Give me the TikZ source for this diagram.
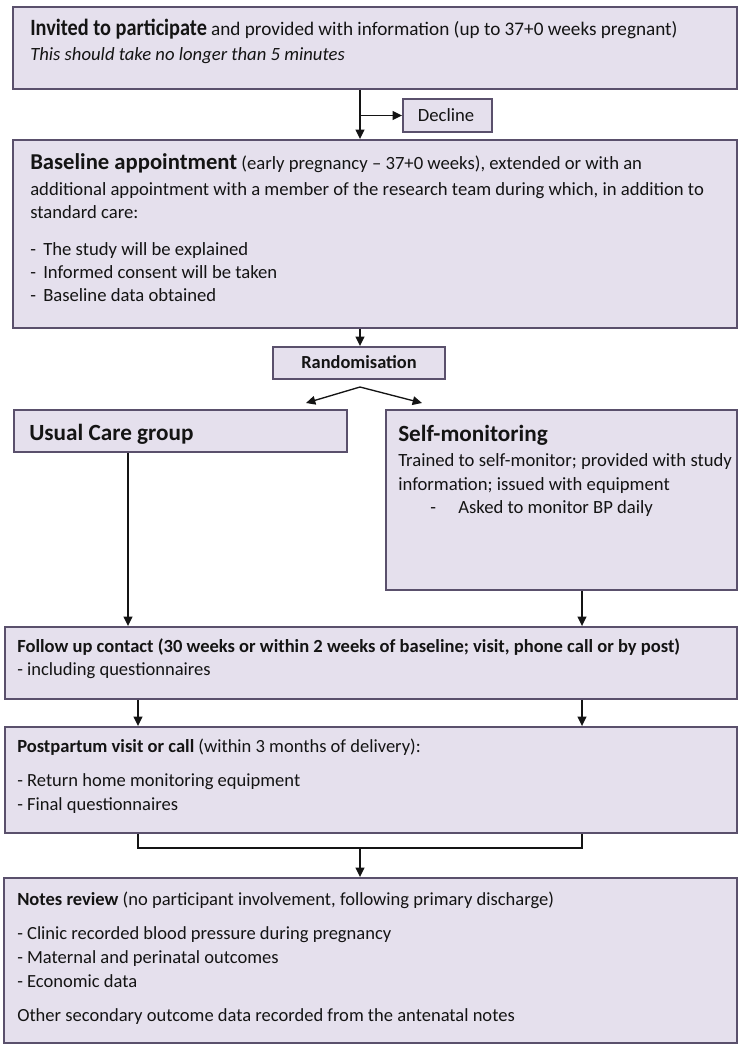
\documentclass[tikz,border=0pt]{standalone}
\usepackage{fontspec}
\setmainfont{Carlito}
\usetikzlibrary{arrows.meta,fit}
\definecolor{boxfill}{RGB}{229,224,237}
\definecolor{boxline}{RGB}{90,80,108}
\definecolor{ink}{RGB}{20,20,20}
\begin{document}
\begin{tikzpicture}[x=0.75pt,y=-0.75pt,
  box/.style={draw=boxline,fill=boxfill,line width=1.4pt,inner sep=0pt},
  txt/.style={anchor=base west,inner sep=0pt,text=ink,font=\fontsize{14}{16}\selectfont},
  small/.style={anchor=base west,inner sep=0pt,text=ink,font=\fontsize{13.9}{16}\selectfont},
  big/.style={font=\bfseries\fontsize{17.4}{20}\selectfont},
  arr/.style={-{Triangle[length=7pt,width=6.5pt]},line width=1pt,draw=ink},
  ln/.style={line width=1pt,draw=ink}]
\useasboundingbox (0,0) rectangle (746,1050);

% boxes
\node[box,fit={(13,7)(737,89)}] (invite) {};
\node[box,fit={(403,99)(492,132)}] (decline) {};
\node[box,fit={(13,140)(737,328)}] (baseline) {};
\node[box,fit={(273,347)(445,379)}] (random) {};
\node[box,fit={(14,410)(347,452)}] (usual) {};
\node[box,fit={(386,410)(737,590)}] (self) {};
\node[box,fit={(5,627)(737,699)}] (follow) {};
\node[box,fit={(5,727)(737,833)}] (post) {};
\node[box,fit={(4,878)(737,1043)}] (notes) {};

% texts
\node[txt] (t1) at (30,35) {\scalebox{0.87}[1]{\bfseries\fontsize{17.5}{20}\selectfont Invited to participate} {\fontsize{14.4}{16}\selectfont and provided with information (up to 37+0 weeks pregnant)}};
\node[txt] (t2) at (30,60) {\itshape This should take no longer than 5 minutes};
\node[txt,anchor=base] (tdec) at (446,121) {Decline};

\node[txt] (b1) at (30,169) {{\bfseries\fontsize{17}{20}\selectfont Baseline appointment} (early pregnancy – 37+0 weeks), extended or with an};
\node[txt] (b2) at (30,195) {additional appointment with a member of the research team during which, in addition to};
\node[txt] (b3) at (30,218) {standard care:};
\node[txt] (b4) at (30,255) {\makebox[9.75pt][l]{-}The study will be explained};
\node[txt] (b5) at (30,278) {\makebox[9.75pt][l]{-}Informed consent will be taken};
\node[txt] (b6) at (30,301) {\makebox[9.75pt][l]{-}Baseline data obtained};

\node[txt,anchor=base,font=\bfseries\fontsize{13.8}{16}\selectfont] (trand) at (359,368) {Randomisation};

\node[txt,big] (u1) at (29,440) {Usual Care group};

\node[txt,big] (s1) at (398,441) {Self-monitoring};
\node[txt] (s2) at (398,466) {Trained to self-monitor; provided with study};
\node[txt] (s3) at (398,490) {information; issued with equipment};
\node[txt] (s4) at (430,513) {-};
\node[txt] (s5) at (458,513) {Asked to monitor BP daily};

\node[small] (f1) at (17,652) {\bfseries Follow up contact (30 weeks or within 2 weeks of baseline; visit, phone call or by post)};
\node[small] (f2) at (17,675) {- including questionnaires};

\node[small] (p1) at (17,752) {{\bfseries Postpartum visit or call} (within 3 months of delivery):};
\node[small] (p2) at (17,786) {- Return home monitoring equipment};
\node[small] (p3) at (17,810) {- Final questionnaires};

\node[small] (n1) at (17,905) {{\bfseries Notes review} (no participant involvement, following primary discharge)};
\node[small] (n2) at (17,939) {- Clinic recorded blood pressure during pregnancy};
\node[small] (n3) at (17,963) {- Maternal and perinatal outcomes};
\node[small] (n4) at (17,987) {- Economic data};
\node[small] (n5) at (17,1021) {Other secondary outcome data recorded from the antenatal notes};

% helper coordinates
\coordinate (mx) at (360,0);
\coordinate (split) at (360,387);
\coordinate (ua) at (306,403);
\coordinate (sa) at (422,403);
\coordinate (ux) at (128,0);
\coordinate (sx) at (582,0);
\coordinate (lx) at (138,0);
\coordinate (by) at (0,848);

% connectors
\draw[arr] (invite.south -| mx) -- (baseline.north -| mx);
\draw[arr] (mx |- decline.west) -- (decline.west);
\draw[arr] (baseline.south -| mx) -- (random.north -| mx);
\draw[arr] (split) -- (ua);
\draw[arr] (split) -- (sa);
\draw[arr] (usual.south -| ux) -- (follow.north -| ux);
\draw[arr] (self.south -| sx) -- (follow.north -| sx);
\draw[arr] (follow.south -| lx) -- (post.north -| lx);
\draw[arr] (follow.south -| sx) -- (post.north -| sx);
\draw[ln] (post.south -| lx) -- (lx |- by) -- (sx |- by) -- (post.south -| sx);
\draw[arr] (mx |- by) -- (notes.north -| mx);
\end{tikzpicture}
\end{document}
